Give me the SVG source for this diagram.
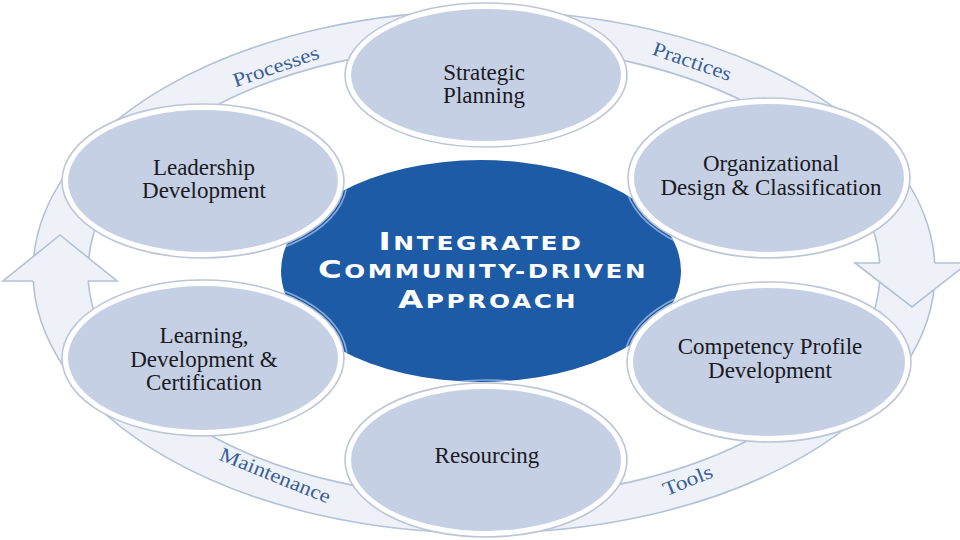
<svg xmlns="http://www.w3.org/2000/svg" width="960" height="540" viewBox="0 0 960 540">
<style>
.band{fill:#eef2f8;stroke:#b4c1d6;stroke-width:1.6}
.ahf{fill:#eef2f8;stroke:none}
.ahs{fill:none;stroke:#b4c1d6;stroke-width:1.6;stroke-linejoin:miter}
.ring{fill:#ffffff;stroke:#bcc6d6;stroke-width:1.6}
.fill{fill:#c5d0e5}
.hl{fill:none;stroke:#86a8d8;stroke-width:1.6}
.lbl{font-family:"Liberation Serif","Times New Roman",serif;font-size:23px;fill:#1a1a1f;text-anchor:middle}
.blbl{font-family:"Liberation Serif","Times New Roman",serif;font-size:20px;fill:#3a5f9a;text-anchor:middle}
.ctr{font-family:"DejaVu Sans","Liberation Sans",sans-serif;font-weight:bold;font-size:19px;letter-spacing:2px;fill:#ffffff;text-anchor:middle}
</style>
<defs>
<clipPath id="blueClip"><ellipse cx="481" cy="271" rx="200" ry="111"/></clipPath>
</defs>
<rect width="960" height="540" fill="#ffffff"/>

<g id="connectors">
  <path class="band" fill-rule="evenodd" d="M 33 272 A 451 261 0 1 0 935 272 A 451 261 0 1 0 33 272 Z M 88 272 A 396 226 0 1 0 880 272 A 396 226 0 1 0 88 272 Z"/>
  <polygon class="ahf" points="33,281 3,281 60,235 117,281 88,281"/>
  <polyline class="ahs" points="33,281 3,281 60,235 117,281 88,281"/>
  <polygon class="ahf" points="880,263 855,263 912,307 968,263 935,263"/>
  <polyline class="ahs" points="880,263 855,263 912,307 968,263 935,263"/>
  <text class="blbl" transform="translate(276,67) rotate(-19)" y="6" textLength="90" lengthAdjust="spacingAndGlyphs">Processes</text>
  <text class="blbl" transform="translate(692,62) rotate(19)" y="6" textLength="82" lengthAdjust="spacingAndGlyphs">Practices</text>
  <text class="blbl" transform="translate(275,476) rotate(22)" y="6" textLength="118" lengthAdjust="spacingAndGlyphs">Maintenance</text>
  <text class="blbl" transform="translate(688,481) rotate(-22)" y="6" textLength="52" lengthAdjust="spacingAndGlyphs">Tools</text>
</g>

<g id="center">
  <ellipse cx="481" cy="271" rx="200" ry="111" fill="#1d5ba7"/>
</g>

<g id="highlights" clip-path="url(#blueClip)">
  <ellipse class="hl" cx="203" cy="181" rx="144" ry="80"/>
  <ellipse class="hl" cx="769" cy="178" rx="144" ry="83"/>
  <ellipse class="hl" cx="203" cy="358" rx="144" ry="81"/>
  <ellipse class="hl" cx="769" cy="362" rx="145" ry="83"/>
  <ellipse class="hl" cx="486" cy="460" rx="144" ry="80"/>
  <ellipse class="hl" cx="486" cy="75" rx="144" ry="75"/>
</g>

<g id="strategic-planning">
  <ellipse class="ring" cx="486" cy="75" rx="141" ry="72"/>
  <ellipse class="fill" cx="486" cy="75" rx="135" ry="66"/>
  <text class="lbl" x="484" y="80">Strategic</text>
  <text class="lbl" x="484" y="103">Planning</text>
</g>

<g id="leadership-development">
  <ellipse class="ring" cx="203" cy="181" rx="141" ry="77"/>
  <ellipse class="fill" cx="203" cy="181" rx="135" ry="71"/>
  <text class="lbl" x="204" y="175">Leadership</text>
  <text class="lbl" x="204" y="198">Development</text>
</g>

<g id="organizational-design">
  <ellipse class="ring" cx="769" cy="178" rx="141" ry="80"/>
  <ellipse class="fill" cx="769" cy="178" rx="135" ry="74"/>
  <text class="lbl" x="771" y="171">Organizational</text>
  <text class="lbl" x="771" y="195">Design &amp; Classification</text>
</g>

<g id="learning-development">
  <ellipse class="ring" cx="203" cy="358" rx="141" ry="78"/>
  <ellipse class="fill" cx="203" cy="358" rx="135" ry="72"/>
  <text class="lbl" x="204" y="343">Learning,</text>
  <text class="lbl" x="204" y="367">Development &amp;</text>
  <text class="lbl" x="204" y="390">Certification</text>
</g>

<g id="competency-profile">
  <ellipse class="ring" cx="769" cy="362" rx="142" ry="80"/>
  <ellipse class="fill" cx="769" cy="362" rx="136" ry="74"/>
  <text class="lbl" x="770" y="354">Competency Profile</text>
  <text class="lbl" x="770" y="378">Development</text>
</g>

<g id="resourcing">
  <ellipse class="ring" cx="486" cy="460" rx="141" ry="77"/>
  <ellipse class="fill" cx="486" cy="460" rx="135" ry="71"/>
  <text class="lbl" x="487" y="463">Resourcing</text>
</g>

<g id="center-text">
  <text class="ctr" x="481" y="250" textLength="205" lengthAdjust="spacingAndGlyphs"><tspan font-size="25">I</tspan>NTEGRATED</text>
  <text class="ctr" x="483" y="278" textLength="330" lengthAdjust="spacingAndGlyphs"><tspan font-size="25">C</tspan>OMMUNITY-DRIVEN</text>
  <text class="ctr" x="488" y="308" textLength="180" lengthAdjust="spacingAndGlyphs"><tspan font-size="25">A</tspan>PPROACH</text>
</g>
</svg>
